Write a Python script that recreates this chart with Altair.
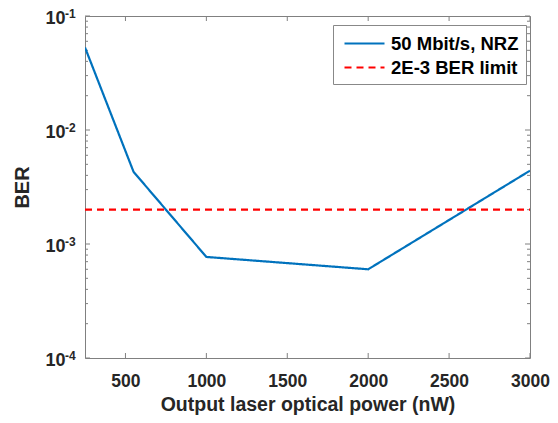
import altair as alt
import pandas as pd

# Data
power_nw = [250, 550, 1000, 2000, 3000]
ber_values = [0.053, 0.0043, 0.00077, 0.0006, 0.0044]
limit_x = [250, 3000]
limit_ber = [0.002, 0.002]
series_names = ["50 Mbit/s, NRZ", "2E-3 BER limit"]
series_colors = ["#0072BD", "#FF0000"]

x_major = [500, 1000, 1500, 2000, 2500, 3000]
y_major = [1e-4, 1e-3, 1e-2, 1e-1]
y_exponents = ["-4", "-3", "-2", "-1"]
y_minor = [m * d for d in [1e-4, 1e-3, 1e-2] for m in range(2, 10)]

W, H = 445, 342

lines_df = pd.DataFrame(
    {"x": power_nw + limit_x,
     "y": ber_values + limit_ber,
     "series": [series_names[0]] * len(power_nw) + [series_names[1]] * len(limit_x)}
)

xs = alt.Scale(domain=[250, 3000], nice=False, zero=False)
ys = alt.Scale(type="log", domain=[1e-4, 1e-1], nice=False)

lines = alt.Chart(lines_df).mark_line(strokeWidth=2.2, clip=True).encode(
    x=alt.X("x:Q", scale=xs,
            axis=alt.Axis(values=x_major, title="Output laser optical power (nW)",
                          ticks=False, domain=False, grid=False, labelPadding=14,
                          labelFontSize=17.5, labelFontWeight="bold", labelColor="#262626",
                          titleFontSize=19.5, titleFontWeight="bold", titleColor="#262626",
                          titlePadding=6, labelFlush=False, format="d")),
    y=alt.Y("y:Q", scale=ys,
            axis=alt.Axis(values=y_major, labelExpr="'10'", title="BER",
                          ticks=False, domain=False, grid=False, labelPadding=20,
                          labelFontSize=18, labelFontWeight="bold", labelColor="#262626",
                          labelOffset=2,
                          titleFontSize=20, titleFontWeight="bold", titleColor="#262626",
                          titlePadding=12)),
    color=alt.Color("series:N", scale=alt.Scale(domain=series_names, range=series_colors),
                    legend=alt.Legend(title=None, orient="none", legendX=248, legendY=9,
                                      symbolType="M-0.7,0H3.3", symbolSize=400,
                                      symbolStrokeWidth=2.2,
                                      labelFontSize=18.5, labelFontWeight="bold",
                                      labelColor="#000000", labelLimit=400,
                                      fillColor="white", strokeColor="#888888",
                                      padding=7, rowPadding=3, labelOffset=28)),
    strokeDash=alt.StrokeDash("series:N",
                              scale=alt.Scale(domain=series_names, range=[[1, 0], [7, 5]]),
                              legend=None),
)

xt_df = pd.DataFrame({"x": x_major})
yt_df = pd.DataFrame({"y": y_major})
ym_df = pd.DataFrame({"y": y_minor})
tick_color = "#808080"

xt_bottom = alt.Chart(xt_df).mark_rule(color=tick_color, strokeWidth=1).encode(
    x=alt.X("x:Q", scale=xs), y=alt.value(H), y2=alt.value(H - 5))
xt_top = alt.Chart(xt_df).mark_rule(color=tick_color, strokeWidth=1).encode(
    x=alt.X("x:Q", scale=xs), y=alt.value(0), y2=alt.value(5))
yt_left = alt.Chart(yt_df).mark_rule(color=tick_color, strokeWidth=1).encode(
    y=alt.Y("y:Q", scale=ys), x=alt.value(0), x2=alt.value(5))
yt_right = alt.Chart(yt_df).mark_rule(color=tick_color, strokeWidth=1).encode(
    y=alt.Y("y:Q", scale=ys), x=alt.value(W), x2=alt.value(W - 5))
ym_left = alt.Chart(ym_df).mark_rule(color=tick_color, strokeWidth=1).encode(
    y=alt.Y("y:Q", scale=ys), x=alt.value(0), x2=alt.value(3))
ym_right = alt.Chart(ym_df).mark_rule(color=tick_color, strokeWidth=1).encode(
    y=alt.Y("y:Q", scale=ys), x=alt.value(W), x2=alt.value(W - 3))

exp_df = pd.DataFrame({"y": y_major, "e": y_exponents})
exps = alt.Chart(exp_df).mark_text(align="left", baseline="middle", fontSize=12,
                                   fontWeight="bold", color="#262626", dy=-2,
                                   font="Liberation Sans").encode(
    y=alt.Y("y:Q", scale=ys), x=alt.value(-20), text="e:N")

chart = alt.layer(ym_left, ym_right, yt_left, yt_right, xt_bottom, xt_top,
                  lines, exps).properties(
    width=W, height=H,
    autosize=alt.AutoSizeParams(type="none"),
    padding={"left": 77, "top": 8, "right": 20, "bottom": 57},
).configure(font="Liberation Sans").configure_view(
    stroke="#808080", strokeWidth=1
).configure_axis(labelFont="Liberation Sans", titleFont="Liberation Sans"
).configure_legend(labelFont="Liberation Sans")

chart.save("out.html", embed_options={"renderer": "svg", "actions": False})
